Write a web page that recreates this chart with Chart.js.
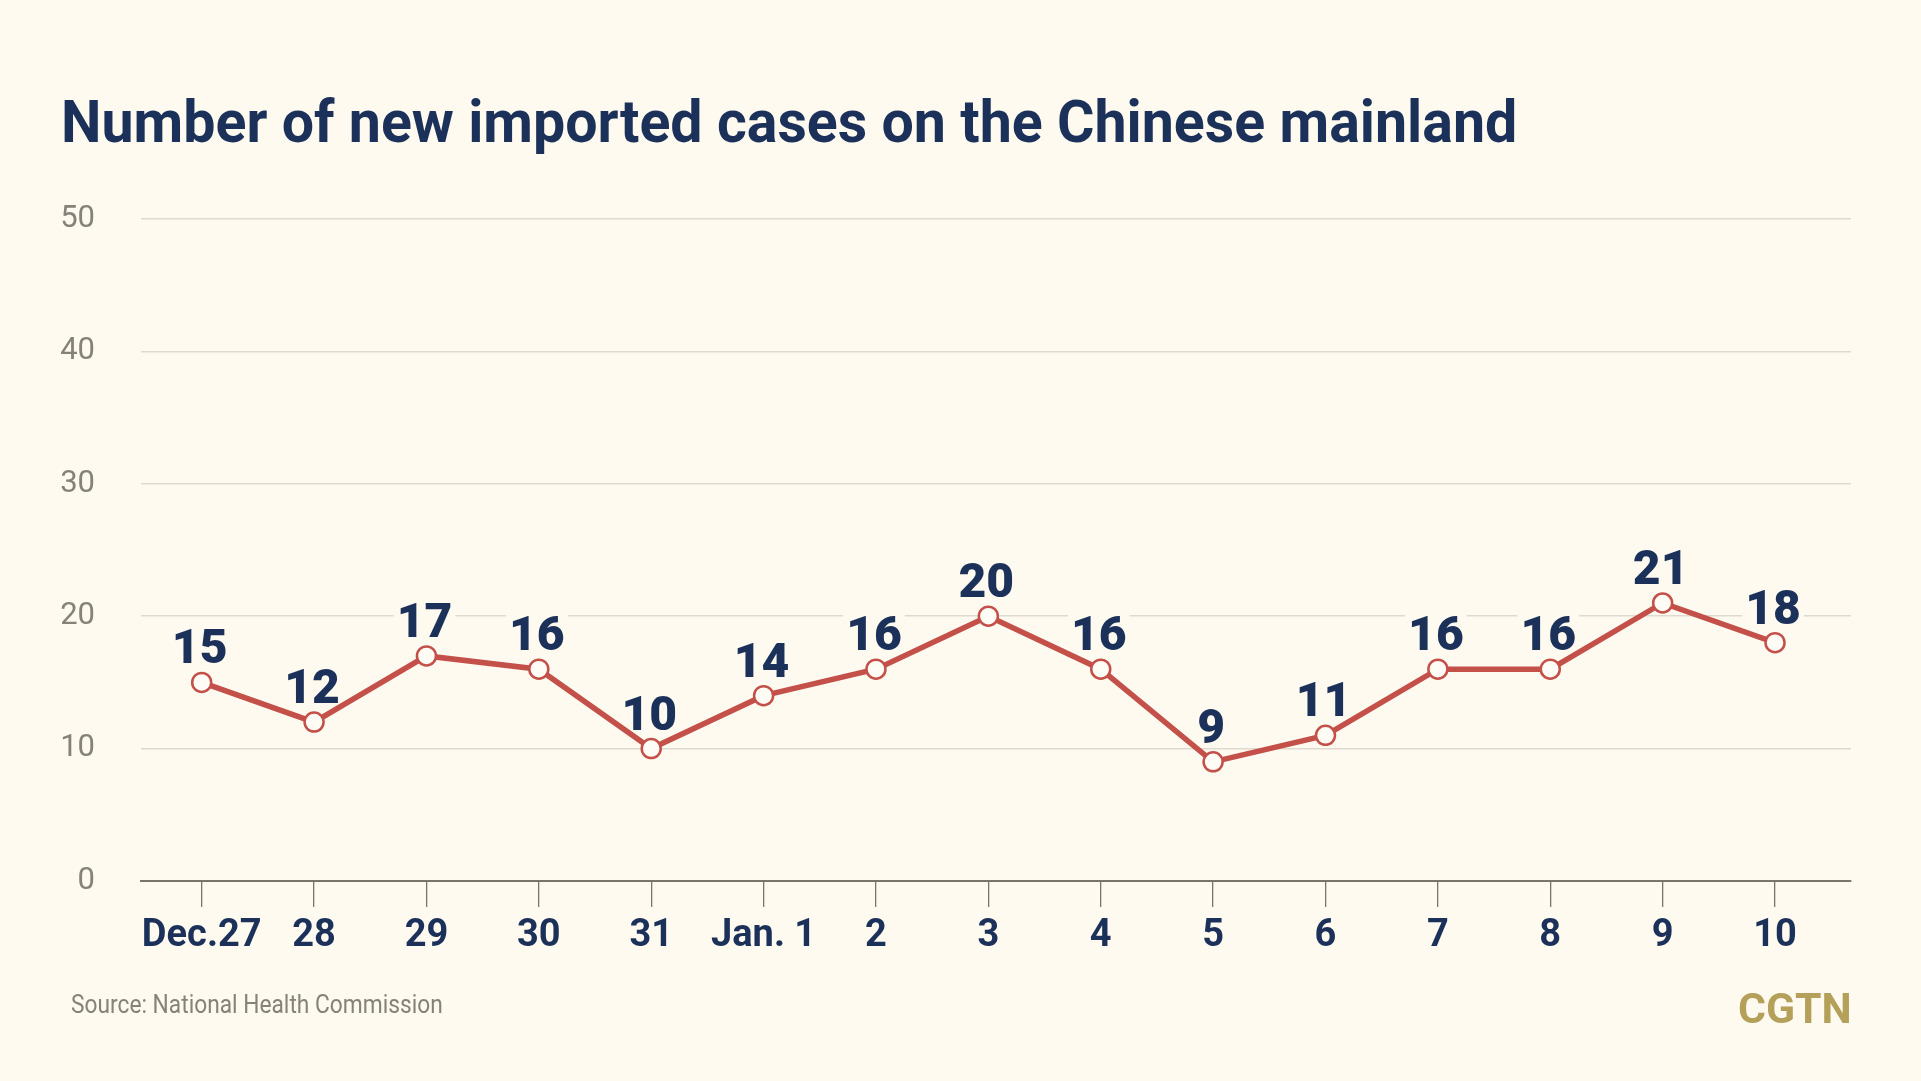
<!DOCTYPE html>
<html>
<head>
<meta charset="utf-8">
<title>Number of new imported cases on the Chinese mainland</title>
<script src="https://cdn.jsdelivr.net/npm/chart.js@4.4.1/dist/chart.umd.min.js"></script>
<style>
  html, body { margin: 0; padding: 0; background: #fefaf0; overflow: hidden; }
  #wrap { position: relative; width: 1921px; height: 1081px; }
  #chart { position: absolute; left: 0; top: 0; }
  .txt { position: absolute; white-space: nowrap; display: inline-block; transform-origin: left top; }
  #title { left: 61px; top: 92px; font: 700 60px/60px Roboto, sans-serif; color: #1b3159; }
  #source { left: 71px; top: 992px; font: 400 25px/25px Roboto, sans-serif; color: #85827a; }
  #logo { left: 1738px; top: 988px; font: 700 42px/42px Roboto, sans-serif; color: #b5a05a; }
</style>
</head>
<body>
<div id="wrap">
  <canvas id="chart" width="1921" height="1081"></canvas>
  <div id="title" class="txt">Number of new imported cases on the Chinese mainland</div>
  <div id="source" class="txt">Source: National Health Commission</div>
  <div id="logo" class="txt">CGTN</div>
</div>
<script>
const categories = ['Dec.27', '28', '29', '30', '31', 'Jan. 1', '2', '3', '4', '5', '6', '7', '8', '9', '10'];
const cases = [15, 12, 17, 16, 10, 14, 16, 20, 16, 9, 11, 16, 16, 21, 18];
const yTicks = [0, 10, 20, 30, 40, 50];

const bg = '#fefaf0';
const navy = '#1b3159';
const red = '#c4504a';
const gray = '#85827a';
const font = 'Roboto, sans-serif';

// squeeze a text block to the width it has in the reference
function fitWidth(id, width) {
  const el = document.getElementById(id);
  el.style.transform = `scaleX(${width / el.offsetWidth})`;
}
fitWidth('title', 1456);
fitWidth('source', 372);
fitWidth('logo', 114);

// value labels above the points, on a background box that hides the gridlines
const valueLabels = {
  id: 'valueLabels',
  beforeDatasetsDraw(chart) {
    const ctx = chart.ctx;
    const meta = chart.getDatasetMeta(0);
    ctx.save();
    ctx.font = `900 48px ${font}`;
    ctx.textAlign = 'center';
    ctx.textBaseline = 'alphabetic';
    meta.data.forEach((pt, i) => {
      const txt = String(cases[i]);
      const w = ctx.measureText(txt).width;
      const x = pt.x - 2, y = pt.y - 19;
      ctx.fillStyle = bg;
      ctx.fillRect(x - w / 2 - 3, y - 38, w + 6, 42);
      ctx.fillStyle = navy;
      ctx.fillText(txt, x, y);
    });
    ctx.restore();
  }
};

new Chart(document.getElementById('chart'), {
  type: 'line',
  data: {
    datasets: [{
      data: cases.map((v, i) => ({ x: i, y: v })),
      borderColor: red,
      borderWidth: 5.5,
      tension: 0,
      pointRadius: 9.5,
      pointBorderWidth: 2.5,
      pointBackgroundColor: '#fffcf5',
      pointBorderColor: red
    }]
  },
  options: {
    responsive: false,
    animation: false,
    devicePixelRatio: 1,
    layout: { padding: { top: 219, right: 70, left: 0, bottom: 0 } },
    plugins: { legend: { display: false }, tooltip: { enabled: false } },
    scales: {
      x: {
        type: 'linear',
        min: -0.54,
        max: 14.676,
        afterBuildTicks: s => { s.ticks = categories.map((c, i) => ({ value: i })); },
        afterFit: s => { s.height = 200; },
        ticks: {
          callback: v => categories[v],
          font: { family: font, size: 38, weight: 'bold' },
          color: navy,
          padding: 7,
          autoSkip: false,
          maxRotation: 0
        },
        grid: { drawOnChartArea: false, drawTicks: true, tickLength: 26, color: '#77756c', lineWidth: 1.3 },
        border: { display: true, color: '#77756c', width: 2 }
      },
      y: {
        min: 0,
        max: 50,
        afterBuildTicks: s => { s.ticks = yTicks.map(v => ({ value: v })); },
        afterFit: s => { s.width = 141; },
        ticks: {
          font: { family: font, size: 31 },
          color: gray,
          padding: 46
        },
        grid: { color: '#dedacd', lineWidth: 1.6, drawTicks: false },
        border: { display: false }
      }
    }
  },
  plugins: [valueLabels]
});
</script>
</body>
</html>
